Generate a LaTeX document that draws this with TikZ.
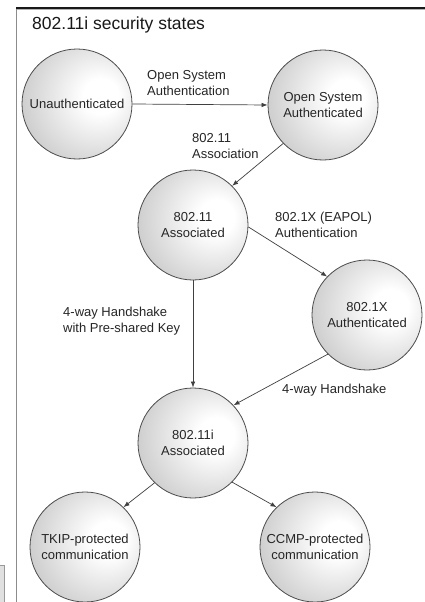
\documentclass[tikz,border=0pt]{standalone}
\usepackage{fontspec}
\setmainfont{Liberation Sans}
\usetikzlibrary{arrows.meta}
\pgfdeclareradialshading{stateball}{\pgfpoint{12bp}{4bp}}{%
  color(0bp)=(white);
  color(8bp)=(white);
  color(40bp)=(black!25);
  color(62bp)=(black!50);
  color(80bp)=(black!58)}
\tikzset{
  state/.style={circle, draw=black!70, line width=0.8pt, shading=stateball,
    minimum size=110pt, inner sep=0pt, align=center, text=black!85,
    font=\fontsize{13}{15.5}\selectfont},
  lbl/.style={align=left, anchor=west, inner sep=0pt, text=black!85,
    font=\fontsize{13}{16}\selectfont},
  conn/.style={draw=black!75, line width=0.7pt,
    -{Latex[length=6pt,width=4.5pt]}}
}
\begin{document}
\begin{tikzpicture}[x=1pt,y=-1pt]
\useasboundingbox (0,0) rectangle (425,602);
\fill[white] (0,0) rectangle (425,602);
% frame
\draw[black!45, line width=1.3pt] (16.5,8) -- (16.5,602);
\draw[black!30, line width=1pt] (17,10) -- (425,10);
\draw[black!90, line width=1.3pt] (16,8) -- (425,8);
\draw[black!40, fill=black!12, line width=0.6pt] (-1,565) rectangle (4,603);
\node[anchor=base west, inner sep=0pt, text=black!90,
  font=\fontsize{17.5}{20}\selectfont] (title) at (32,30) {802.11i security states};
% states
\node[state] (un) at (77,104) {Unauthenticated};
\node[state] (osa) at (323,105) {Open System\\Authenticated};
\node[state] (as) at (193,225) {802.11\\Associated};
\node[state] (x1) at (367,315) {802.1X\\Authenticated};
\node[state] (ia) at (193,443) {802.11i\\Associated};
\node[state] (tk) at (85,547) {TKIP-protected\\communication};
\node[state] (cc) at (315,547) {CCMP-protected\\communication};
% connectors
\draw[conn] (un.east) -- (osa.west);
\draw[conn] (osa.224) -- (as.45);
\draw[conn] (as.-2) -- (x1.136);
\draw[conn] (as.south) -- (ia.north);
\draw[conn] (x1.225) -- (ia.43);
\draw[conn] (ia.226) -- (tk.46);
\draw[conn] (ia.-45) -- (cc.134);
% labels
\node[lbl] (l1) at (147,83) {Open System\\Authentication};
\node[lbl] (l2) at (192,146) {802.11\\Association};
\node[lbl] (l3) at (275,225) {802.1X (EAPOL)\\Authentication};
\node[lbl] (l4) at (63,321) {4-way Handshake\\with Pre-shared Key};
\node[lbl] (l5) at (282,390) {4-way Handshake};
\end{tikzpicture}
\end{document}
